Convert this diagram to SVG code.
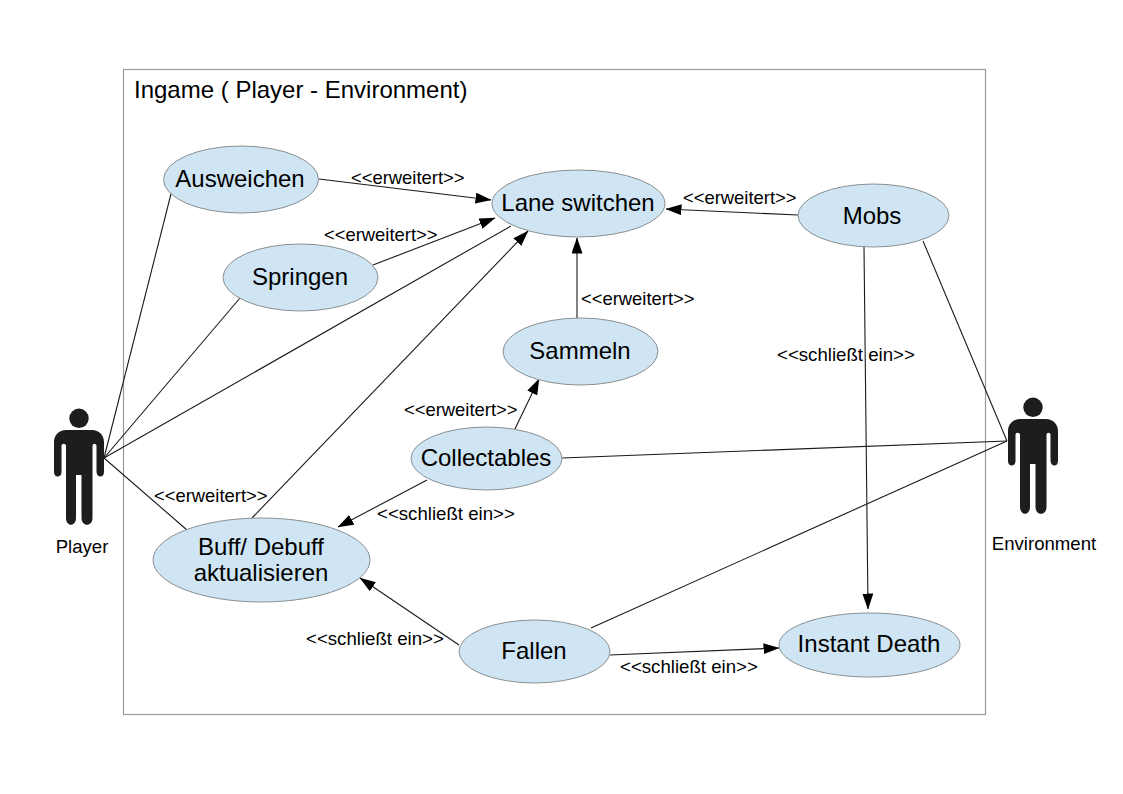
<svg xmlns="http://www.w3.org/2000/svg" width="1123" height="794" viewBox="0 0 1123 794">
<style>
text{font-family:"Liberation Sans",Arial,sans-serif;fill:#000}
.uc{fill:#cfe5f3;stroke:#8a8f92;stroke-width:1}
.n{font-size:24px;text-anchor:middle}
.l{font-size:18.400px}
.s{font-size:18.650px}
.a{font-size:18.600px;text-anchor:middle}
.c line{stroke:#1a1a1a;stroke-width:1.1;fill:none}
.c .h{marker-end:url(#arrow)}
</style>
<defs>
<marker id="arrow" viewBox="0 0 16 11" refX="15.500" refY="5.500" markerWidth="16" markerHeight="11" markerUnits="userSpaceOnUse" orient="auto"><path d="M0 0L16 5.500L0 11Z" fill="#000"/></marker>
<g id="actor" fill="#1f1c1d"><circle cx="79" cy="418.300" r="9.700"/><path d="M66 430H92C99 430 104 435 104 442V472C104 478 97 478 96.500 472V446C96.500 443 92.500 443 92.500 446V518C92.500 527 81.500 527 81.500 518V475H76V518C76 527 66 527 66 518V446C66 443 61.500 443 61.500 446V472C61.500 478 54 478 54 472V442C54 435 59 430 66 430Z"/></g>
</defs>
<rect width="1123" height="794" fill="#fff"/>
<g id="boundary"><rect x="123.500" y="69.500" width="862" height="645" fill="#fff" stroke="#9a9a9a" stroke-width="1.2"/><text x="134" y="98" font-size="24">Ingame ( Player - Environment)</text></g>
<g id="connectors" class="c">
<line x1="319" y1="179" x2="491" y2="200" class="h"/>
<line x1="373" y1="265" x2="495" y2="218" class="h"/>
<line x1="104" y1="458" x2="511" y2="226"/>
<line x1="104" y1="458" x2="172" y2="190"/>
<line x1="104" y1="458" x2="240" y2="298"/>
<line x1="104" y1="458" x2="187" y2="530"/>
<line x1="252" y1="518" x2="528" y2="231" class="h"/>
<line x1="577" y1="318" x2="577" y2="238" class="h"/>
<line x1="798" y1="215" x2="666" y2="209" class="h"/>
<line x1="864" y1="247" x2="868" y2="609" class="h"/>
<line x1="923" y1="241" x2="1007" y2="441"/>
<line x1="562" y1="458" x2="1007" y2="441"/>
<line x1="591" y1="628" x2="1007" y2="441"/>
<line x1="514" y1="431" x2="539" y2="379" class="h"/>
<line x1="427" y1="480" x2="338" y2="527" class="h"/>
<line x1="459" y1="645" x2="360" y2="578" class="h"/>
<line x1="610" y1="655" x2="779" y2="648" class="h"/>
</g>
<g id="player"><use href="#actor"/><text x="82" y="553" class="a">Player</text></g>
<g id="environment"><use href="#actor" transform="translate(954 -11)"/><text x="1044" y="550" class="a">Environment</text></g>
<g id="ausweichen"><ellipse class="uc" cx="241" cy="179.500" rx="77.500" ry="33.500"/><text x="240" y="187" class="n">Ausweichen</text></g>
<g id="lane-switchen"><ellipse class="uc" cx="578.500" cy="203.500" rx="86.500" ry="33.500"/><text x="578" y="211" class="n">Lane switchen</text></g>
<g id="mobs"><ellipse class="uc" cx="873.500" cy="215.500" rx="75.500" ry="31.500"/><text x="872" y="224" class="n">Mobs</text></g>
<g id="springen"><ellipse class="uc" cx="300.500" cy="277.500" rx="77.500" ry="33.500"/><text x="300" y="285" class="n">Springen</text></g>
<g id="sammeln"><ellipse class="uc" cx="580.500" cy="351.500" rx="77.500" ry="33.500"/><text x="580" y="359" class="n">Sammeln</text></g>
<g id="collectables"><ellipse class="uc" cx="486.500" cy="458.500" rx="75.500" ry="31.500"/><text x="486" y="466" class="n">Collectables</text></g>
<g id="buff"><ellipse class="uc" cx="261.500" cy="560" rx="108.500" ry="42"/><text x="261" y="555" class="n">Buff/ Debuff</text><text x="261" y="581" class="n">aktualisieren</text></g>
<g id="fallen"><ellipse class="uc" cx="534.500" cy="651.500" rx="75.500" ry="31.500"/><text x="534" y="659" class="n">Fallen</text></g>
<g id="instant-death"><ellipse class="uc" cx="869.500" cy="645" rx="90.500" ry="32"/><text x="869" y="652" class="n">Instant Death</text></g>
<g id="labels">
<text x="351" y="184" class="l">&lt;&lt;erweitert&gt;&gt;</text>
<text x="324" y="241" class="l">&lt;&lt;erweitert&gt;&gt;</text>
<text x="683" y="204" class="l">&lt;&lt;erweitert&gt;&gt;</text>
<text x="581" y="305" class="l">&lt;&lt;erweitert&gt;&gt;</text>
<text x="404" y="416" class="l">&lt;&lt;erweitert&gt;&gt;</text>
<text x="154" y="502" class="l">&lt;&lt;erweitert&gt;&gt;</text>
<text x="777" y="361" class="s">&lt;&lt;schließt ein&gt;&gt;</text>
<text x="377" y="520" class="s">&lt;&lt;schließt ein&gt;&gt;</text>
<text x="306" y="645" class="s">&lt;&lt;schließt ein&gt;&gt;</text>
<text x="620" y="673" class="s">&lt;&lt;schließt ein&gt;&gt;</text>
</g>
</svg>
